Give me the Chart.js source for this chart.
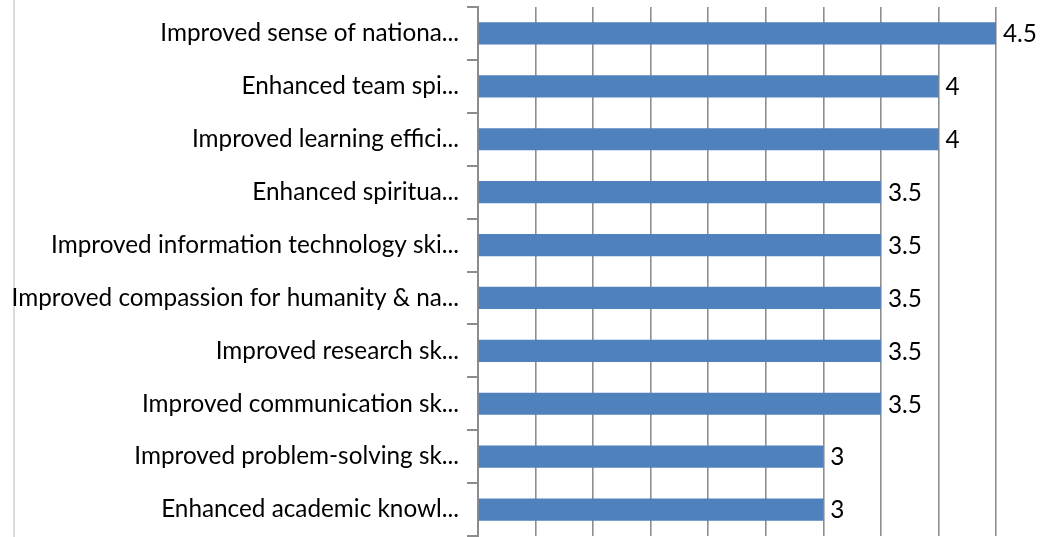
<!DOCTYPE html>
<html>
<head>
<meta charset="utf-8">
<script src="https://cdn.jsdelivr.net/npm/chart.js@4/dist/chart.umd.min.js"></script>
<style>
  html, body { margin: 0; padding: 0; background: #ffffff; }
  #wrap { position: relative; width: 1048px; height: 537px; }
  #edge { position: absolute; left: 13px; top: 0; width: 2px; height: 537px; background: #dcdcdc; }
  canvas { position: absolute; left: 0; top: 0; }
</style>
</head>
<body>
<div id="wrap">
  <div id="edge"></div>
  <canvas id="c" width="1048" height="537"></canvas>
</div>
<script>
const categories = [
  "Improved sense of nationa...",
  "Enhanced team spi...",
  "Improved learning effici...",
  "Enhanced spiritua...",
  "Improved information technology ski...",
  "Improved compassion for humanity & na...",
  "Improved research sk...",
  "Improved communication sk...",
  "Improved problem-solving sk...",
  "Enhanced academic knowl..."
];
const values = [4.5, 4, 4, 3.5, 3.5, 3.5, 3.5, 3.5, 3, 3];
const axisMin = 0;
const axisMax = 4.5;
const axisStep = 0.5;

const FONT = "Lato, 'Carlito', 'Open Sans', sans-serif";

const valueLabels = {
  id: 'valueLabels',
  afterDatasetsDraw(chart) {
    const ctx = chart.ctx;
    const meta = chart.getDatasetMeta(0);
    ctx.save();
    ctx.font = "24.3px " + FONT;
    ctx.fillStyle = "#000000";
    ctx.textAlign = "left";
    ctx.textBaseline = "middle";
    meta.data.forEach((bar, i) => {
      ctx.fillText(String(values[i]), bar.x + 7, bar.y + 1);
    });
    ctx.restore();
  }
};

new Chart(document.getElementById('c'), {
  type: 'bar',
  data: {
    labels: categories,
    datasets: [{
      data: values,
      backgroundColor: '#4f81bd',
      borderWidth: 0,
      categoryPercentage: 1.0,
      barPercentage: 0.42
    }]
  },
  options: {
    indexAxis: 'y',
    responsive: false,
    animation: false,
    layout: { padding: { left: 0, right: 52, top: 7, bottom: 1 } },
    plugins: {
      legend: { display: false },
      tooltip: { enabled: false }
    },
    scales: {
      x: {
        min: axisMin,
        max: axisMax,
        afterFit(scale) { scale.height = 0; scale.paddingLeft = 0; scale.paddingRight = 0; },
        ticks: { display: false, stepSize: axisStep },
        grid: { color: '#8e8e8e', lineWidth: 1.6, drawTicks: false },
        border: { display: false }
      },
      y: {
        afterFit(scale) { scale.width = 478; scale.paddingTop = 0; scale.paddingBottom = 0; },
        ticks: {
          color: '#000000',
          font: { family: FONT, size: 24.3 },
          padding: 8
        },
        grid: {
          offset: true,
          drawOnChartArea: false,
          drawTicks: true,
          tickLength: 11,
          color: '#8c8c8c',
          lineWidth: 2
        },
        border: { display: true, color: '#8c8c8c', width: 2 }
      }
    }
  },
  plugins: [valueLabels]
});
</script>
</body>
</html>
